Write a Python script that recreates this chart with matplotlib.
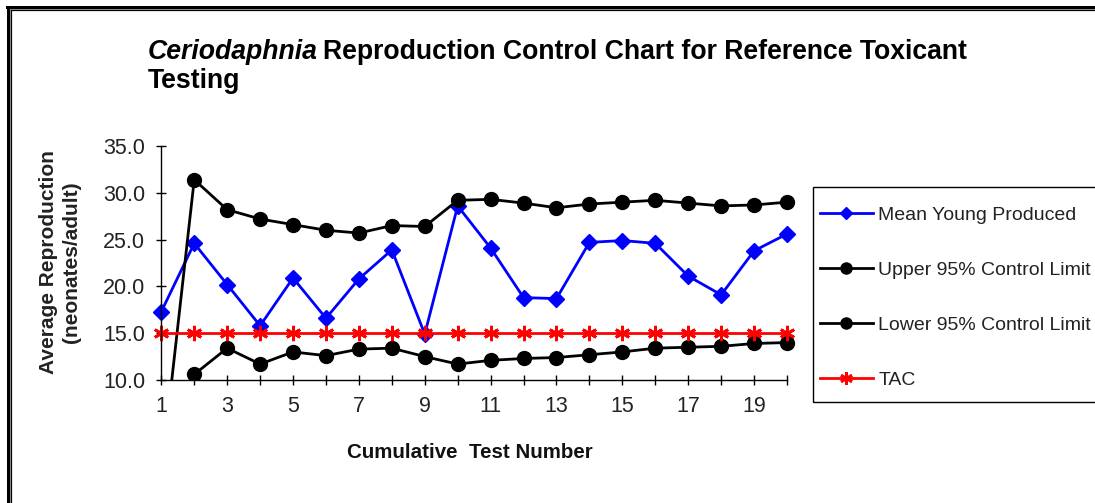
import numpy as np
import matplotlib.pyplot as plt
from matplotlib.lines import Line2D
from matplotlib.patches import Rectangle

# data
tests = list(range(1, 21))
mean_young = [17.3, 24.6, 20.2, 15.8, 20.9, 16.6, 20.8, 23.9, 14.9, 28.6,
              24.1, 18.8, 18.7, 24.7, 24.9, 24.6, 21.1, 19.1, 23.8, 25.6]
upper_limit = [0.0, 31.4, 28.2, 27.2, 26.6, 26.0, 25.7, 26.5, 26.4, 29.2,
               29.3, 28.9, 28.4, 28.8, 29.0, 29.2, 28.9, 28.6, 28.7, 29.0]
lower_limit = [np.nan, 10.6, 13.4, 11.7, 13.0, 12.6, 13.3, 13.4, 12.5, 11.7,
               12.1, 12.3, 12.4, 12.7, 13.0, 13.4, 13.5, 13.6, 13.9, 14.0]
tac = [15.0] * 20
series_names = ['Mean Young Produced', 'Upper 95% Control Limit',
                'Lower 95% Control Limit', 'TAC']

plt.rcParams['font.family'] = ['Liberation Sans', 'DejaVu Sans']

W, H = 1095, 503
fig = plt.figure(figsize=(W / 100, H / 100), dpi=100)

def fx(px):
    return px / W

def fy(py):
    return 1 - py / H

ax = fig.add_axes([fx(161.3), fy(380), fx(787) - fx(161.3), fy(146) - fy(380)])

lines = []
lines += ax.plot(tests, mean_young, color='#0000FF', lw=2, marker='D', ms=8.5,
                 label=series_names[0])
lines += ax.plot(tests, upper_limit, color='black', lw=2, marker='o', ms=10,
                 label=series_names[1])
lines += ax.plot(tests, lower_limit, color='black', lw=2, marker='o', ms=10,
                 label=series_names[2])
lines += ax.plot(tests, tac, color='#FF0000', lw=2, marker=(6, 2, 0), ms=11,
                 mew=2, label=series_names[3])

# clip only at the bottom/top so edge markers are drawn whole
clip = Rectangle((-0.1, 0), 1.2, 1.2, transform=ax.transAxes)
for ln in lines:
    ln.set_clip_path(clip)

ax.set_xlim(1, 20)
ax.set_ylim(10, 35)
ax.set_xticks(tests)
ax.set_xticklabels([str(t) if t % 2 == 1 else '' for t in tests])
ax.set_yticks(np.arange(10, 36, 5))
ax.set_yticklabels(['%.1f' % v for v in np.arange(10, 36, 5)])
ax.tick_params(direction='inout', length=7, width=1, colors='black',
               labelcolor='#222222', labelsize=15.5)
ax.tick_params(axis='y', pad=8)
ax.tick_params(axis='x', pad=8)
for s in ['top', 'right']:
    ax.spines[s].set_visible(False)
for s in ['left', 'bottom']:
    ax.spines[s].set_linewidth(1)

# title with italic genus name
fig.canvas.draw()
r = fig.canvas.get_renderer()
t1 = fig.text(fx(148), fy(59), 'Ceriodaphnia', fontsize=19.2, fontweight='bold',
              style='italic', va='baseline', ha='left')
bb = t1.get_window_extent(renderer=r)
fig.text(bb.x1 / W + fx(5), fy(59), 'Reproduction Control Chart for Reference Toxicant',
         fontsize=19.2, fontweight='bold', va='baseline', ha='left')
fig.text(fx(148), fy(88), 'Testing', fontsize=19.2, fontweight='bold',
         va='baseline', ha='left')

fig.text(fx(60), fy(262), 'Average Reproduction\n(neonates/adult)', rotation=90,
         fontsize=15, fontweight='bold', ha='center', va='center',
         multialignment='center', color='#222222')
fig.text(fx(470), fy(458), 'Cumulative  Test Number', fontsize=14.8,
         fontweight='bold', ha='center', va='baseline', color='#111111')

# legend with its own box that runs off the right edge
fig.add_artist(Rectangle((fx(813), fy(402)), fx(1100) - fx(813), fy(186.7) - fy(402),
                         transform=fig.transFigure, fill=False, ec='black', lw=1))
handles = [Line2D([], [], color='#0000FF', lw=2, marker='D', ms=6),
           Line2D([], [], color='black', lw=2, marker='o', ms=8),
           Line2D([], [], color='black', lw=2, marker='o', ms=8),
           Line2D([], [], color='#FF0000', lw=2, marker=(6, 2, 0), ms=9, mew=2)]
fig.legend(handles, series_names, loc='upper left',
           bbox_to_anchor=(fx(820), fy(206)), bbox_transform=fig.transFigure,
           frameon=False, borderpad=0, borderaxespad=0, fontsize=14,
           handlelength=2.7, handletextpad=0.3, labelspacing=1.93,
           labelcolor='#222222')

# double outer frame (top and left only are visible)
for pos, lw, col in [(6.5, 3, 'black'), (8.8, 1, '#999999'), (9.8, 1.2, 'black')]:
    fig.add_artist(Line2D([fx(pos), 1], [fy(pos), fy(pos)], transform=fig.transFigure,
                          color=col, lw=lw * 0.72))
for pos, lw, col in [(8, 3, 'black'), (10, 1, '#999999'), (11, 1.2, 'black')]:
    fig.add_artist(Line2D([fx(pos), fx(pos)], [fy(pos - 1.5), 0], transform=fig.transFigure,
                          color=col, lw=lw * 0.72))

fig.savefig('out.png', dpi=100)
